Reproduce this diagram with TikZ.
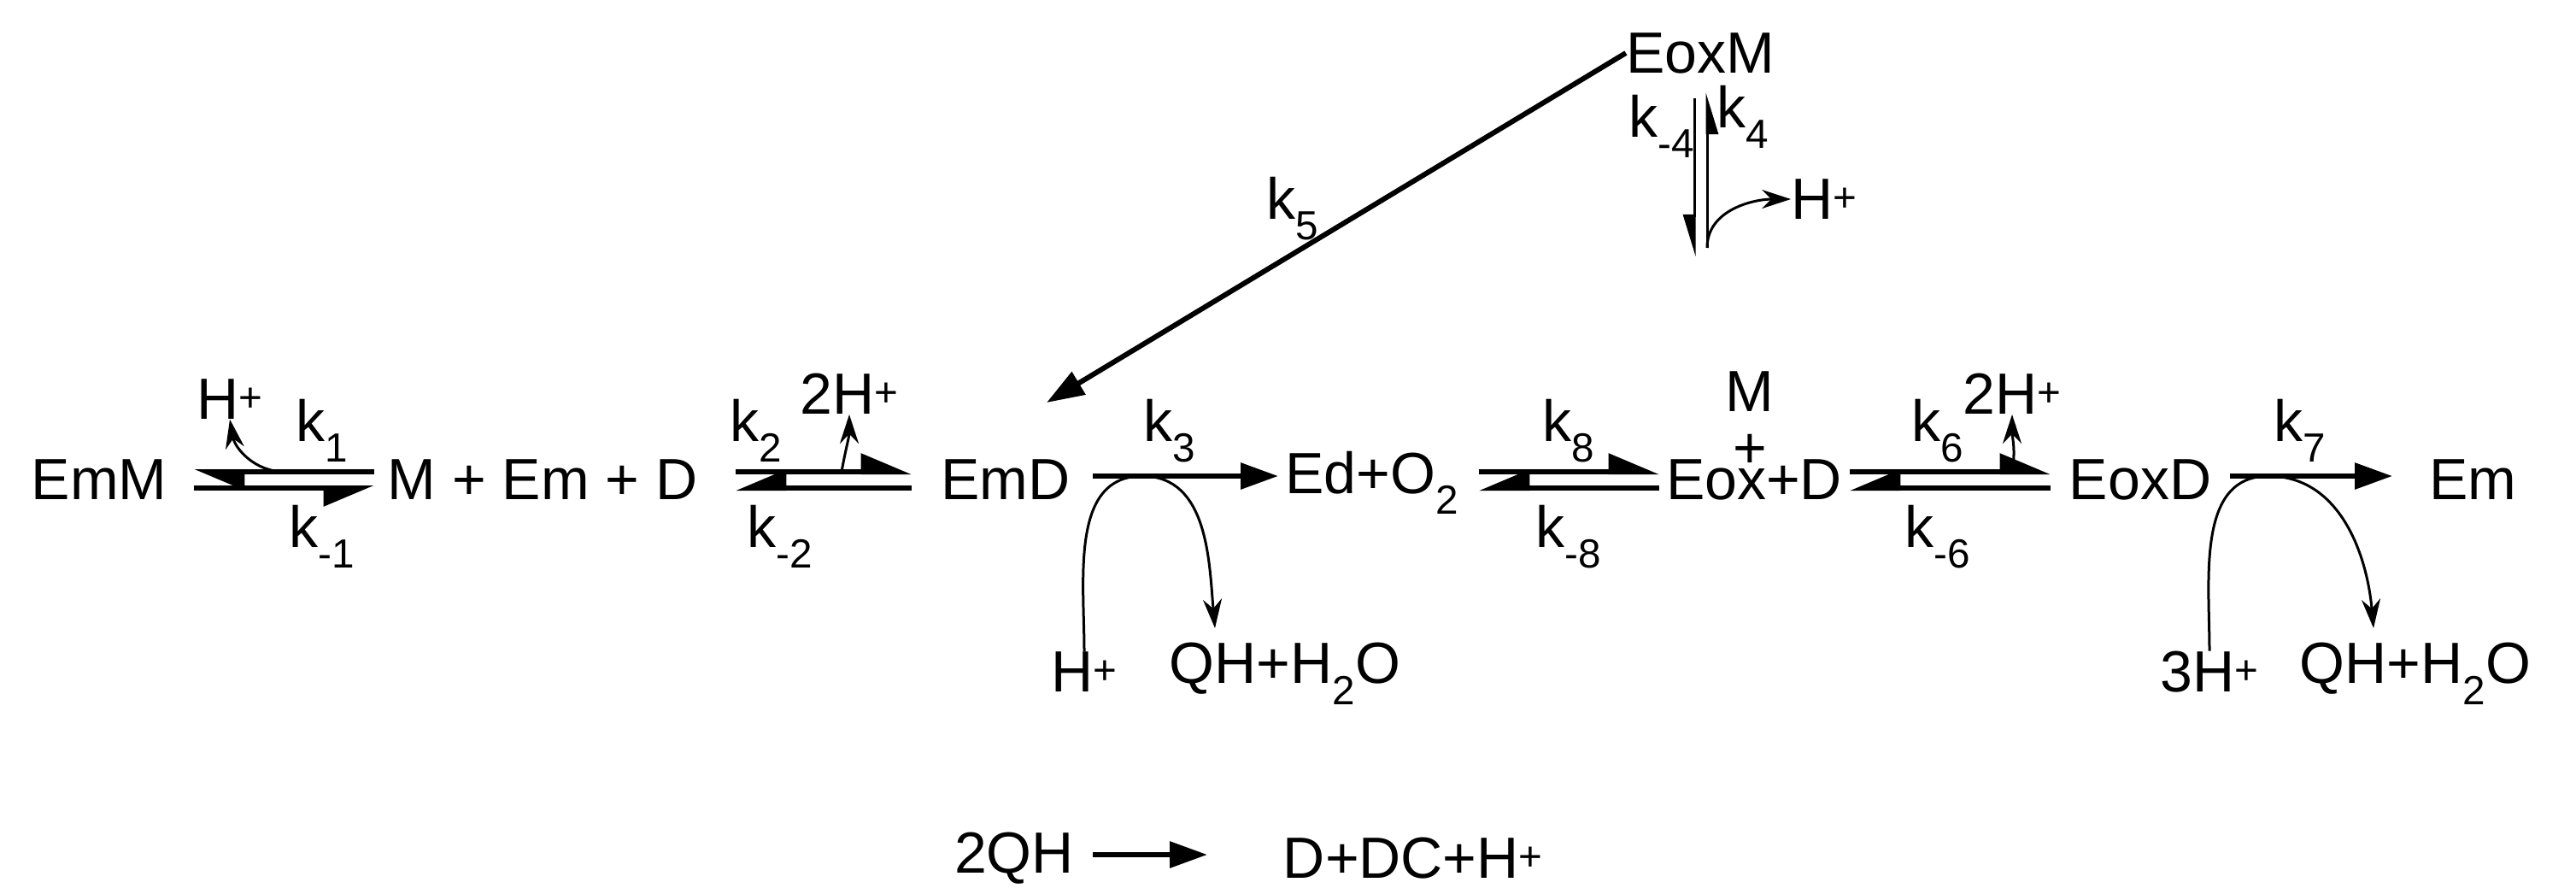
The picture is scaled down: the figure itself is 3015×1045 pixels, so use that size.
\documentclass[tikz,border=0pt]{standalone}
\usepackage{fontspec}
\setmainfont{Liberation Sans}
\usetikzlibrary{arrows.meta}
\begin{document}
\begin{tikzpicture}[x=1pt,y=-1pt,
  lbl/.style={font=\fontsize{68}{74}\selectfont, inner sep=0pt},
  thk/.style={line width=6pt},
  thn/.style={line width=3pt},
  hu/.style={-{Triangle[harpoon,length=52pt,width=42pt]}},
  hd/.style={-{Triangle[harpoon,swap,length=52pt,width=42pt]}},
  fa/.style={-{Triangle[length=44pt,width=30pt]}},
  ca/.style={-{Stealth[length=34pt,width=22pt]}}]
\useasboundingbox (0,0) rectangle (3015,1045);
% species
\node[lbl] (EmM) at (116,561) {EmM};
\node[lbl] (MEmD) at (635,561) {M + Em + D};
\node[lbl] (EmD) at (1177,561) {EmD};
\node[lbl] (EdO) at (1606,565) {Ed+O\textsubscript{2}};
\node[lbl] (EoxD1) at (2053,561) {Eox+D};
\node[lbl] (EoxD) at (2505,561) {EoxD};
\node[lbl] (Em) at (2894,561) {Em};
\node[lbl] (EoxM) at (1990,62) {EoxM};
\node[lbl] (M) at (2048,458) {M};
\node[lbl] (plus) at (2048,528) {+};
% rate labels
\node[lbl] (k1) at (377,504) {k\textsubscript{1}};
\node[lbl] (km1) at (377,628) {k\textsubscript{-1}};
\node[lbl] (k2) at (885,504) {k\textsubscript{2}};
\node[lbl] (km2) at (913,628) {k\textsubscript{-2}};
\node[lbl] (k3) at (1369,504) {k\textsubscript{3}};
\node[lbl] (k8) at (1836,504) {k\textsubscript{8}};
\node[lbl] (km8) at (1836,628) {k\textsubscript{-8}};
\node[lbl] (k6) at (2268,504) {k\textsubscript{6}};
\node[lbl] (km6) at (2268,628) {k\textsubscript{-6}};
\node[lbl] (k7) at (2692,504) {k\textsubscript{7}};
\node[lbl] (k5) at (1513,244) {k\textsubscript{5}};
\node[lbl] (km4) at (1945,148) {k\textsubscript{-4}};
\node[lbl] (k4) at (2040,137) {k\textsubscript{4}};
% side species
\node[lbl] (H1) at (269,467) {H\textsuperscript{+}};
\node[lbl] (H2) at (994,461) {2H\textsuperscript{+}};
\node[lbl] (H6) at (2355,461) {2H\textsuperscript{+}};
\node[lbl] (H4) at (2135,233) {H\textsuperscript{+}};
\node[lbl] (H3) at (1269,786) {H\textsuperscript{+}};
\node[lbl] (Q3) at (1504,788) {QH+H\textsubscript{2}O};
\node[lbl] (H7) at (2586,786) {3H\textsuperscript{+}};
\node[lbl] (Q7) at (2827,788) {QH+H\textsubscript{2}O};
\node[lbl] (QH) at (1187,1004) {2QH};
\node[lbl] (DC) at (1654,1004) {D+DC+H\textsuperscript{+}};
% coordinates
\coordinate (a1l) at (227,552); \coordinate (a1r) at (438,552);
\coordinate (b1l) at (227,571); \coordinate (b1r) at (438,571);
\coordinate (a2l) at (861,552); \coordinate (a2r) at (1067,552);
\coordinate (b2l) at (861,571); \coordinate (b2r) at (1067,571);
\coordinate (a8l) at (1731,552); \coordinate (a8r) at (1942,552);
\coordinate (b8l) at (1731,571); \coordinate (b8r) at (1942,571);
\coordinate (a6l) at (2165,552); \coordinate (a6r) at (2400,552);
\coordinate (b6l) at (2165,571); \coordinate (b6r) at (2400,571);
\coordinate (c3l) at (1279,557); \coordinate (c3r) at (1496,557);
\coordinate (c7l) at (2610,557); \coordinate (c7r) at (2800,557);
\coordinate (qa) at (1279,1000); \coordinate (qb) at (1413,1000);
\coordinate (v1t) at (1983,115); \coordinate (v1b) at (1983,300);
\coordinate (v2t) at (1998,108); \coordinate (v2b) at (1998,290);
% equilibrium arrows
\draw[thk,hu] (a1r) -- (a1l);
\draw[thk,hd] (b1l) -- (b1r);
\draw[thk,hu] (a2l) -- (a2r);
\draw[thk,hd] (b2r) -- (b2l);
\draw[thk,hu] (a8l) -- (a8r);
\draw[thk,hd] (b8r) -- (b8l);
\draw[thk,hu] (a6l) -- (a6r);
\draw[thk,hd] (b6r) -- (b6l);
\draw[thk,fa] (c3l) -- (c3r);
\draw[thk,fa] (c7l) -- (c7r);
\draw[thk,fa] (EoxM.west) -- (1225,471);
\draw[thk,fa] (qa) -- (qb);
% vertical pair
\draw[thn,-{Triangle[harpoon,swap,length=44pt,width=26pt]}] (v1t) -- (v1b);
\draw[thn,-{Triangle[harpoon,swap,length=44pt,width=26pt]}] (v2b) -- (v2t);
% curved proton arrows
\draw[thn,ca] (333,552) to[out=180,in=-80] (H1.south);
\draw[thn,ca] (985,552) to[out=80,in=-90] (H2.south);
\draw[thn,ca] (2355,552) to[out=80,in=-90] (H6.south);
\draw[thn,ca] (v2b) to[out=90,in=180] (H4.west);
\draw[thn,ca] (H3.north) to[out=90,in=180] (1337,557) to[out=0,in=95] (1422,735);
\draw[thn,ca] (H7.north) to[out=90,in=180] (2655,557) to[out=0,in=95] (2778,735);
\end{tikzpicture}
\end{document}
